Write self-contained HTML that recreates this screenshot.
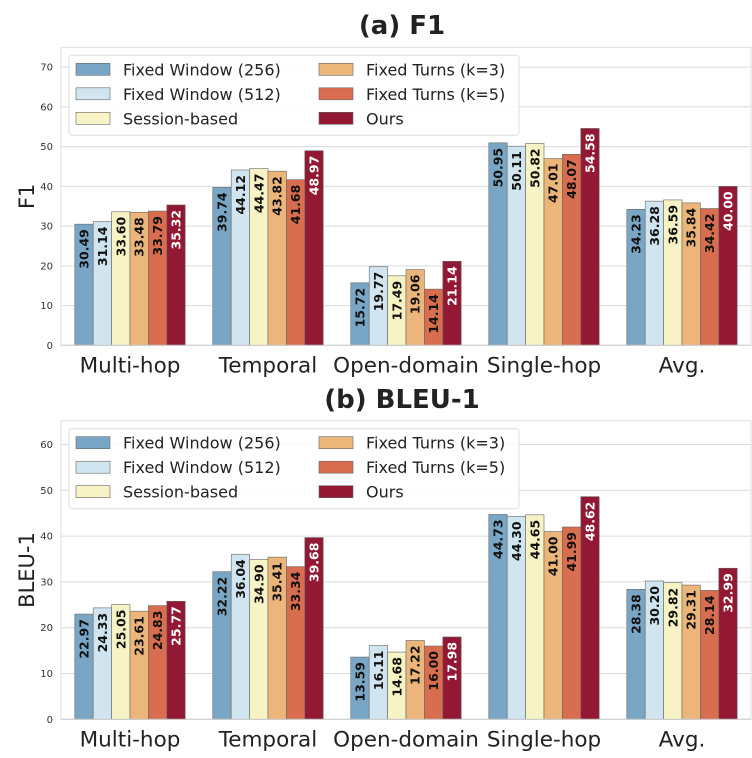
<!DOCTYPE html>
<html><head><meta charset="utf-8"><style>
body{margin:0;background:#fff;}
svg{display:block;font-family:"DejaVu Sans","Liberation Sans",sans-serif;}
</style></head><body>
<svg id="c" width="752" height="758"></svg>
<script>
const categories=["Multi-hop","Temporal","Open-domain","Single-hop","Avg."];
const series=["Fixed Window (256)","Fixed Window (512)","Session-based","Fixed Turns (k=3)","Fixed Turns (k=5)","Ours"];
const f1Values=[
[30.49,39.74,15.72,50.95,34.23],
[31.14,44.12,19.77,50.11,36.28],
[33.60,44.47,17.49,50.82,36.59],
[33.48,43.82,19.06,47.01,35.84],
[33.79,41.68,14.14,48.07,34.42],
[35.32,48.97,21.14,54.58,40.00]];
const bleuValues=[
[22.97,32.22,13.59,44.73,28.38],
[24.33,36.04,16.11,44.30,30.20],
[25.05,34.90,14.68,44.65,29.82],
[23.61,35.41,17.22,41.00,29.31],
[24.83,33.34,16.00,41.99,28.14],
[25.77,39.68,17.98,48.62,32.99]];
const f1Ticks=[0,10,20,30,40,50,60,70];
const bleuTicks=[0,10,20,30,40,50,60];
const colors=["#7aa6c5","#d1e5f0","#f7f3c4","#ecb57a","#d96d4f","#931833"];
const NS="http://www.w3.org/2000/svg";
const svg=document.getElementById('c');
function el(t,a,p){const e=document.createElementNS(NS,t);for(const k in a)e.setAttribute(k,a[k]);(p||svg).appendChild(e);return e;}
function panel(key,title,titleY,yLabel,values,ticks,ymax,top,bottom){
  const g=el('g',{});
  
  
  const L=61,R=751;
  const y=v=>bottom-(bottom-top)*v/ymax;
  const cw=(R-L)/categories.length;
  const x=i=>L+cw*(i+0.5);
  const bw=18.4;
  const t=el('text',{x:(L+R)/2-4,y:titleY,'text-anchor':'middle','font-size':26,'font-weight':'bold',fill:'#222'},g);t.textContent=title;
  
  el('rect',{x:L,y:top,width:R-L,height:bottom-top,fill:'#fff',stroke:'#ddd','stroke-width':1},g);
  ticks.forEach(v=>{
    if(v>0){const gl=el('line',{x1:L,x2:R,y1:y(v),y2:y(v),stroke:'#dcdcdc','stroke-width':1},g);}
    const tl=el('text',{x:L-8,y:y(v)+3.5,'text-anchor':'end','font-size':10,fill:'#333'},g);tl.textContent=v;
    
  });
  const yl=el('text',{x:0,y:0,'text-anchor':'middle','font-size':21,fill:'#222',transform:`translate(34,${(top+bottom)/2}) rotate(-90)`},g);yl.textContent=yLabel;
  
  categories.forEach((c,i)=>{
    const cl=el('text',{x:x(i),y:bottom+27,'text-anchor':'middle','font-size':21.5,fill:'#222'},g);cl.textContent=c;
    
    series.forEach((s,j)=>{
      const v=values[j][i];
      const bx=x(i)+(j-3)*bw;
      const r=el('rect',{x:bx,y:y(v),width:bw,height:bottom-y(v),fill:colors[j],stroke:'#666','stroke-width':0.6},g);
      
      const lt=el('text',{x:0,y:0,'text-anchor':'end','font-size':12.5,'font-weight':'bold',fill:j==5?'#fff':'#111',transform:`translate(${bx+bw/2+4.5},${y(v)+5}) rotate(-90)`},g);
      lt.textContent=v.toFixed(2);
      
    });
  });
  el('line',{x1:L,x2:R,y1:bottom,y2:bottom,stroke:'#ccc'},g);
  const lg=el('g',{},g);
  
  const ly=top+8;
  el('rect',{x:69,y:ly,width:450,height:80,rx:3,fill:'#fff','fill-opacity':0.85,stroke:'#ddd'},lg);
  series.forEach((s,j)=>{
    const col=j<3?0:1,row=j%3;
    const px=col?319:76,py=ly+8+row*24.5;
    const e=el('g',{},lg);
    
    el('rect',{x:px,y:py,width:34,height:12,fill:colors[j],stroke:'#666','stroke-width':0.6},e);
    const tt=el('text',{x:px+47,y:py+12,'font-size':16,fill:'#222'},e);tt.textContent=s;
  });
}
panel('f1','(a) F1',34,'F1',f1Values,f1Ticks,75,47.3,345.3);
panel('bleu','(b) BLEU-1',408,'BLEU-1',bleuValues,bleuTicks,65.2,420.7,719.3);
</script>
</body></html>
